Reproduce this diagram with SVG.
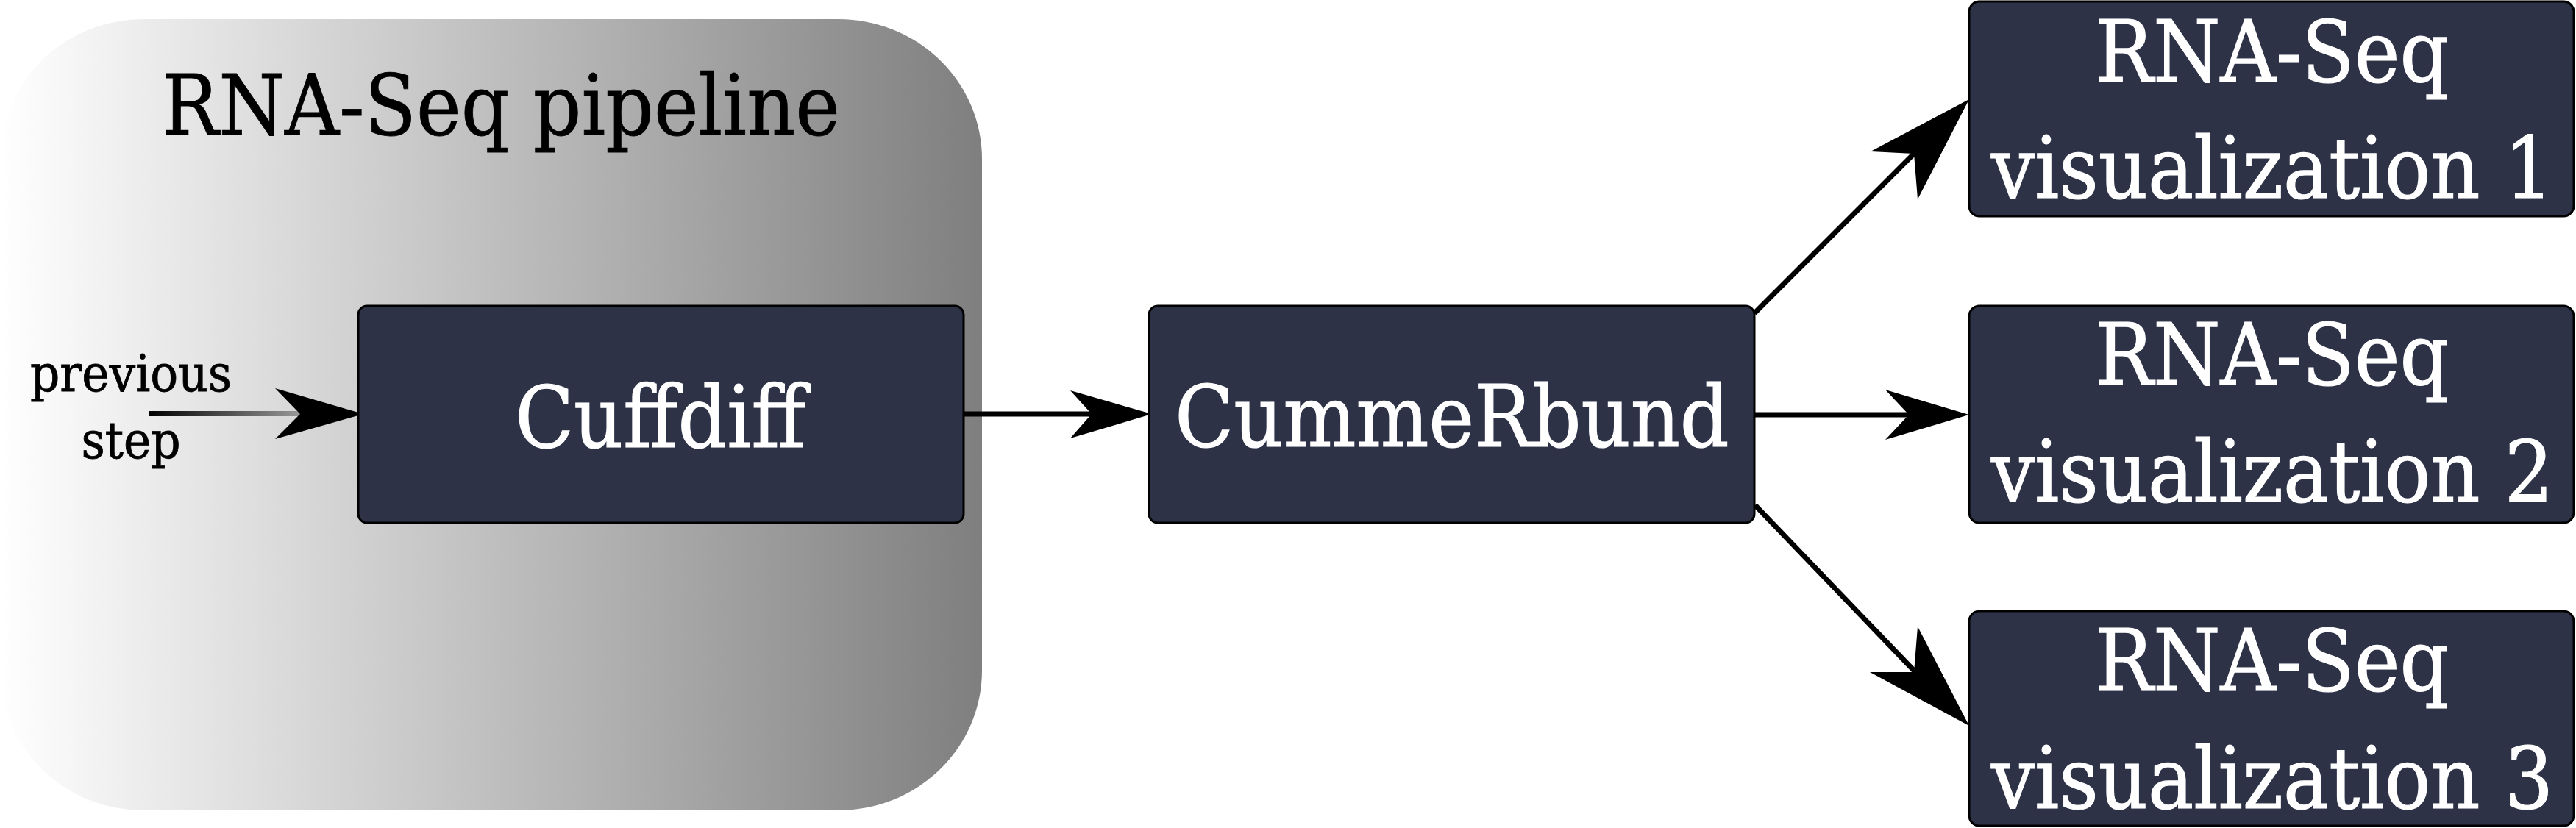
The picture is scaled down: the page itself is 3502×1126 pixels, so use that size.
<svg xmlns="http://www.w3.org/2000/svg" width="3502" height="1126" viewBox="0 0 3502 1126">
  <defs>
    <linearGradient id="grpGrad" x1="0" y1="0" x2="1" y2="0">
      <stop offset="0" stop-color="#ffffff"/>
      <stop offset="1" stop-color="#7f7f7f"/>
    </linearGradient>
    <linearGradient id="prevGrad" gradientUnits="userSpaceOnUse" x1="202" y1="0" x2="410" y2="0">
      <stop offset="0" stop-color="#000000"/>
      <stop offset="1" stop-color="#9a9a9a"/>
    </linearGradient>
    <style>
      .node { fill: #2d3246; stroke: #000000; stroke-width: 3; }
      .lbl { font-family: 'DejaVu Serif Condensed', 'DejaVu Serif', 'Liberation Serif', serif; font-stretch: condensed; text-anchor: middle; }
      .wt { fill: #ffffff; stroke: #ffffff; stroke-width: 1.2; font-size: 116px; }
      .bk { fill: #000000; stroke: #000000; stroke-width: 0.8; }
      .conn { stroke: #000000; stroke-width: 7; fill: none; }
      .head { fill: #000000; stroke: none; }
    </style>
  </defs>

  <g id="group-pipeline">
    <rect x="0" y="26" width="1335" height="1076" rx="195" ry="190" fill="url(#grpGrad)"/>
    <text class="lbl bk" x="681" y="183" font-size="114">RNA-Seq pipeline</text>
  </g>

  <g id="label-previous">
    <text class="lbl bk" x="178" y="532" font-size="70">previous</text>
    <text class="lbl bk" x="178" y="623" font-size="70">step</text>
  </g>

  <g id="connectors">
    <rect x="202" y="559" width="208" height="7" fill="url(#prevGrad)"/>
    <polygon class="head" points="494,563 374,528 408,563 374,597"/>

    <line class="conn" x1="1310" y1="563" x2="1486" y2="563"/>
    <polygon class="head" points="1566,563 1455,531 1484,563 1455,596"/>

    <line class="conn" x1="2385" y1="426" x2="2604" y2="207"/>
    <polygon class="head" points="2677,135 2543,206 2602,209 2607,271"/>

    <line class="conn" x1="2385" y1="564" x2="2597" y2="564"/>
    <polygon class="head" points="2677,564 2563,530 2595,564 2563,598"/>

    <line class="conn" x1="2386" y1="687" x2="2604" y2="914"/>
    <polygon class="head" points="2677,987 2607,852 2602,914 2542,914"/>
  </g>

  <g id="node-cuffdiff">
    <rect class="node" x="487" y="416" width="823" height="295" rx="12"/>
    <text class="lbl wt" x="898" y="608">Cuffdiff</text>
  </g>

  <g id="node-cummerbund">
    <rect class="node" x="1562" y="416" width="823" height="295" rx="12"/>
    <text class="lbl wt" x="1974" y="607">CummeRbund</text>
  </g>

  <g id="node-vis1">
    <rect class="node" x="2677" y="2" width="822" height="292" rx="14"/>
    <text class="lbl wt" x="3089" y="111">RNA-Seq</text>
    <text class="lbl wt" x="3089" y="269">visualization 1</text>
  </g>

  <g id="node-vis2">
    <rect class="node" x="2677" y="416" width="822" height="295" rx="14"/>
    <text class="lbl wt" x="3089" y="523">RNA-Seq</text>
    <text class="lbl wt" x="3089" y="682">visualization 2</text>
  </g>

  <g id="node-vis3">
    <rect class="node" x="2677" y="831" width="822" height="292" rx="14"/>
    <text class="lbl wt" x="3089" y="939">RNA-Seq</text>
    <text class="lbl wt" x="3089" y="1099">visualization 3</text>
  </g>
</svg>
